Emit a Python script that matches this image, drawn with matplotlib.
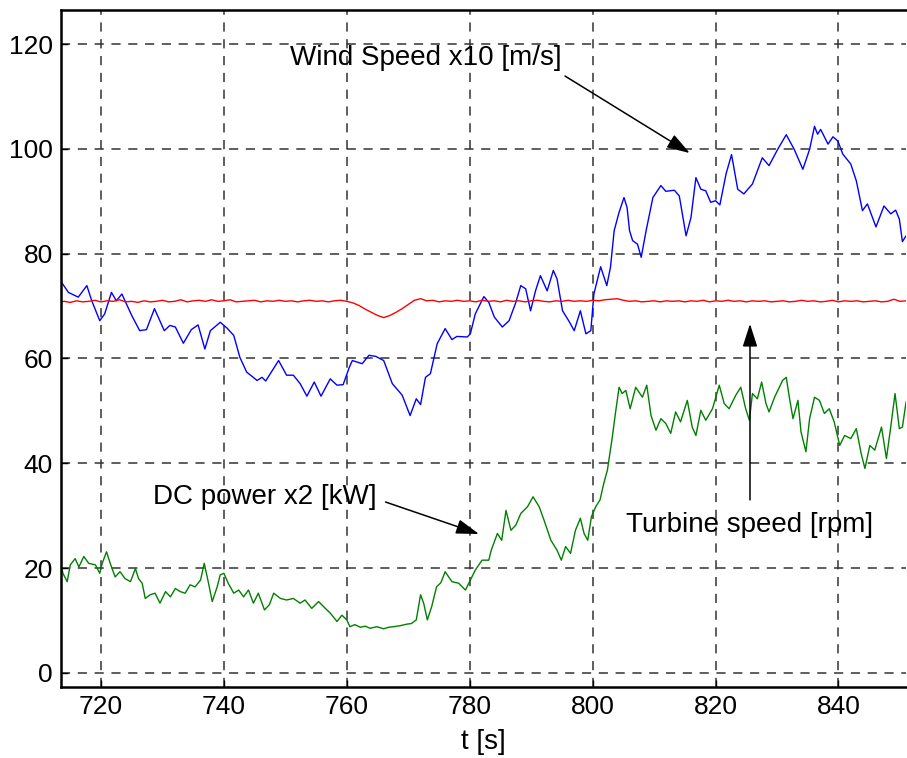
import matplotlib
matplotlib.use("Agg")
import matplotlib.pyplot as plt

plt.rcParams['font.family'] = ['Liberation Sans', 'DejaVu Sans']

# wind speed x10 [m/s]
wind_t = [713.6, 714.7, 716.3, 717.7, 718.5, 719.8, 720.6, 721.7, 722.5, 723.4,
          725.0, 726.3, 727.4, 728.7, 730.3, 731.2, 732.1, 733.4, 734.7, 735.8,
          736.9, 737.8, 739.4, 740.5, 741.6, 742.6, 743.7, 745.4, 746.2, 746.8,
          748.9, 750.2, 751.3, 752.4, 753.5, 754.7, 755.8, 757.3, 758.4, 759.4,
          760.4, 760.9, 761.7, 762.5, 763.6, 764.7, 766.0, 767.4, 769.0, 770.3,
          771.3, 772.0, 772.8, 773.6, 774.7, 776.0, 777.1, 777.9, 779.6, 780.1,
          780.9, 782.3, 783.1, 784.0, 785.3, 786.4, 787.5, 788.3, 789.1, 789.9,
          790.7, 791.5, 792.6, 793.6, 794.2, 795.1, 796.1, 797.0, 798.0, 798.9,
          799.7, 800.2, 801.3, 802.3, 802.9, 803.5, 804.3, 805.1, 805.6, 806.0,
          806.5, 807.3, 807.9, 808.7, 809.8, 811.1, 811.9, 813.3, 814.1, 815.2,
          816.0, 816.8, 817.6, 818.4, 819.2, 820.0, 820.7, 821.7, 822.6, 823.6,
          824.6, 826.0, 826.8, 827.6, 828.7, 830.1, 831.5, 832.8, 834.2, 835.3,
          836.1, 836.6, 837.1, 838.3, 839.1, 839.9, 840.7, 842.0, 842.9, 843.9,
          844.7, 846.1, 847.4, 848.5, 849.3, 849.9, 850.4, 851.0]
wind_v = [74.5, 72.6, 71.7, 73.9, 71.0, 67.2, 68.5, 72.6, 71.0, 72.3,
          68.2, 65.3, 65.5, 69.5, 65.3, 66.3, 66.0, 62.9, 65.5, 66.4,
          61.8, 65.3, 66.9, 65.8, 64.4, 60.2, 57.4, 55.8, 56.4, 55.7,
          59.6, 56.8, 56.8, 55.2, 52.8, 55.5, 52.8, 56.1, 54.9, 55.0,
          58.3, 59.6, 59.3, 59.0, 60.6, 60.4, 59.6, 55.2, 53.0, 49.1,
          52.3, 51.2, 56.4, 57.1, 62.8, 65.7, 63.6, 64.2, 64.1, 64.7,
          68.5, 71.8, 70.7, 67.9, 66.0, 67.2, 70.7, 73.9, 73.3, 69.1,
          72.9, 75.8, 72.9, 76.8, 75.2, 69.1, 67.2, 65.3, 69.1, 64.7,
          65.3, 72.3, 77.5, 73.9, 77.4, 84.4, 87.9, 90.7, 88.8, 84.4,
          82.5, 81.8, 79.3, 84.4, 90.7, 93.0, 91.9, 92.1, 91.0, 83.4,
          86.9, 94.5, 92.3, 92.0, 89.8, 90.1, 89.3, 95.2, 98.9, 92.3,
          91.4, 93.3, 95.8, 98.3, 96.8, 99.9, 102.7, 99.9, 96.1, 99.9,
          104.3, 102.8, 103.7, 100.9, 102.3, 101.5, 99.0, 97.1, 93.9, 88.2,
          89.5, 85.1, 89.1, 87.6, 88.3, 86.6, 82.3, 83.4]

# turbine speed [rpm]
turb_t = [713.5, 714, 715, 716, 717, 718, 719, 720, 721, 722, 723, 724, 725,
          726, 727, 728, 729, 730, 731, 732, 733, 734, 735, 736, 737, 738,
          739, 740, 741, 742, 743, 744, 745, 746, 747, 748, 749, 750, 751,
          752, 753, 754, 755, 756, 757, 758, 759, 760, 761, 762, 763, 764,
          765, 766, 767, 768, 769, 770, 771, 772, 773, 774, 775, 776, 777,
          778, 779, 780, 781, 782, 783, 784, 785, 786, 787, 788, 789, 790,
          791, 792, 793, 794, 795, 796, 797, 798, 799, 800, 801, 802, 803,
          804, 805, 806, 807, 808, 809, 810, 811, 812, 813, 814, 815, 816,
          817, 818, 819, 820, 821, 822, 823, 824, 825, 826, 827, 828, 829,
          830, 831, 832, 833, 834, 835, 836, 837, 838, 839, 840, 841, 842,
          843, 844, 845, 846, 847, 848, 849, 850, 851]
turb_v = [70.8, 70.9, 70.7, 71.0, 70.8, 70.9, 71.1, 70.8, 71.0, 70.9, 71.2, 70.8, 70.9,
          70.7, 71.0, 70.8, 70.9, 71.1, 70.8, 70.9, 71.2, 70.8, 71.0, 71.1, 70.9, 71.2,
          70.9, 71.0, 71.2, 70.8, 70.9, 71.0, 71.1, 70.8, 71.0, 70.9, 71.1, 70.9, 71.0,
          70.8, 71.0, 71.1, 70.9, 71.0, 70.8, 71.0, 71.1, 70.9, 70.6, 70.1, 69.4, 68.8,
          68.2, 67.8, 68.2, 68.8, 69.5, 70.3, 71.1, 71.4, 71.0, 71.1, 70.8, 71.0, 70.9,
          71.1, 70.9, 71.0, 70.8, 71.1, 70.9, 71.0, 70.8, 71.1, 70.9, 71.0, 70.8, 71.0,
          71.1, 70.9, 70.8, 71.0, 70.9, 71.1, 70.9, 71.0, 70.9, 71.1, 71.0, 71.2, 71.3,
          71.4, 71.1, 70.9, 71.0, 70.8, 70.9, 71.0, 70.8, 71.0, 70.9, 71.0, 70.8, 71.0,
          70.9, 71.1, 70.8, 71.0, 70.9, 71.1, 70.9, 71.0, 70.8, 71.0, 70.9, 71.0, 70.8,
          70.9, 71.0, 70.8, 70.9, 71.1, 70.9, 71.0, 70.8, 70.9, 71.1, 70.8, 71.0, 70.9,
          71.0, 70.8, 70.9, 71.0, 70.8, 70.9, 71.3, 70.9, 71.0]

# DC power x2 [kW]
dc_t = [713.4, 713.8, 714.5, 715.0, 715.8, 716.4, 717.2, 718.0, 719.1, 719.8,
        720.2, 720.9, 721.5, 722.3, 723.1, 723.9, 724.8, 725.6, 726.1, 726.7,
        727.2, 728.0, 728.8, 729.6, 730.5, 731.3, 732.1, 732.9, 733.7, 734.5,
        735.3, 736.2, 736.8, 737.5, 738.1, 738.9, 739.4, 740.0, 740.7, 741.6,
        742.4, 743.2, 744.0, 744.8, 745.6, 746.6, 747.4, 748.1, 749.2, 750.2,
        751.3, 752.4, 753.2, 754.3, 755.4, 756.5, 757.3, 758.4, 759.2, 760.0,
        760.5, 761.3, 762.2, 763.0, 763.8, 764.9, 766.0, 766.8, 767.6, 768.7,
        769.8, 770.5, 771.3, 772.0, 772.5, 773.1, 773.8, 774.6, 775.3, 776.0,
        777.1, 778.2, 779.3, 780.1, 780.9, 782.0, 783.1, 783.5, 784.5, 785.2,
        785.9, 786.7, 787.5, 788.3, 789.4, 790.3, 791.3, 792.1, 793.2, 794.2,
        794.9, 795.6, 796.4, 797.2, 798.0, 798.6, 799.2, 799.8, 800.5, 801.2,
        801.8, 802.4, 803.2, 803.7, 804.3, 804.8, 805.4, 806.1, 807.0, 808.1,
        808.8, 809.5, 810.3, 811.1, 811.9, 812.7, 813.5, 814.3, 815.4, 816.2,
        816.8, 817.6, 818.4, 819.5, 820.6, 821.4, 822.2, 823.3, 824.1, 824.9,
        825.5, 826.0, 826.8, 827.5, 828.2, 828.7, 829.6, 830.9, 831.5, 832.0,
        832.6, 833.4, 833.9, 834.7, 835.3, 836.1, 836.9, 837.7, 838.5, 839.3,
        840.2, 841.0, 842.0, 842.9, 843.7, 844.3, 845.1, 845.9, 847.0, 847.8,
        848.5, 849.2, 849.9, 850.4, 851.0]
dc_v = [20.9, 19.0, 17.4, 20.6, 21.8, 20.2, 22.2, 20.9, 20.6, 19.0,
        20.9, 23.1, 20.9, 18.3, 19.3, 18.0, 17.4, 19.9, 18.0, 17.1,
        14.2, 14.9, 15.2, 13.3, 15.5, 14.5, 16.1, 15.5, 15.2, 16.8,
        16.4, 17.7, 20.9, 17.1, 13.6, 16.4, 18.7, 19.0, 17.1, 15.2,
        15.8, 14.5, 15.8, 13.3, 15.2, 12.0, 13.0, 15.2, 14.2, 13.9,
        14.2, 13.3, 13.9, 12.3, 13.6, 12.3, 11.4, 9.8, 11.0, 10.1,
        8.8, 9.2, 8.7, 8.9, 8.5, 8.8, 8.4, 8.7, 8.8, 9.0,
        9.3, 9.4, 10.1, 14.9, 13.3, 10.1, 12.6, 16.4, 17.2, 19.3,
        17.4, 17.1, 15.8, 17.7, 19.6, 21.5, 21.5, 23.4, 26.6, 25.3,
        31.0, 27.2, 28.2, 30.4, 31.7, 33.6, 31.7, 29.1, 25.3, 23.4,
        21.5, 24.1, 22.8, 27.2, 29.5, 26.6, 25.3, 29.8, 31.7, 33.0,
        36.1, 38.7, 45.0, 49.5, 54.5, 53.3, 53.9, 50.4, 54.5, 52.6,
        54.9, 49.1, 46.3, 48.5, 47.6, 45.7, 49.8, 47.9, 52.0, 46.9,
        45.3, 50.1, 48.2, 50.4, 54.9, 51.4, 50.4, 53.0, 54.5, 50.4,
        48.2, 53.3, 52.3, 55.5, 51.4, 49.8, 52.6, 55.8, 56.4, 52.6,
        48.5, 52.0, 46.0, 42.2, 48.5, 52.6, 52.0, 49.5, 50.4, 47.9,
        43.4, 45.3, 44.7, 46.6, 41.8, 39.0, 43.4, 42.5, 46.9, 40.9,
        46.9, 53.3, 46.6, 46.9, 51.7]

fig = plt.figure(figsize=(9.07, 7.58), dpi=100)
ax = fig.add_axes([0.0673, 0.0937, 0.9317, 0.8931])

ax.plot(wind_t, wind_v, color='#0000ff', lw=1.0)
ax.plot(turb_t, turb_v, color='#ff0000', lw=1.0)
ax.plot(dc_t, dc_v, color='#008000', lw=1.0)

ax.set_xlim(713.5, 851)
ax.set_ylim(-2.7, 126.5)
ax.set_xticks([720, 740, 760, 780, 800, 820, 840])
ax.set_yticks([0, 20, 40, 60, 80, 100, 120])
ax.tick_params(direction='in', length=5, width=1, labelsize=19, pad=6)
ax.grid(True, color='#333333', linestyle=(0, (6, 5)), lw=1.1)
ax.spines['right'].set_visible(False)
for s in ['left', 'bottom', 'top']:
    ax.spines[s].set_linewidth(1.8)

ax.set_xlabel("t [s]", fontsize=20, labelpad=7)

arrow = dict(arrowstyle='-|>,head_length=1.4,head_width=0.45', color='k',
             lw=1.1, shrinkA=0, shrinkB=0)
ax.text(772.9, 117.3, "Wind Speed x10 [m/s]", fontsize=20, ha='center', va='center')
ax.annotate('', xy=(815.8, 99.2), xytext=(795.5, 113.9), arrowprops=arrow)
ax.text(825.6, 28.3, "Turbine speed [rpm]", fontsize=20, ha='center', va='center')
ax.annotate('', xy=(825.6, 66.6), xytext=(825.6, 33.0), arrowprops=arrow)
ax.text(746.7, 33.5, "DC power x2 [kW]", fontsize=20, ha='center', va='center')
ax.annotate('', xy=(781.5, 26.5), xytext=(766.3, 32.6), arrowprops=arrow)

fig.savefig('out.png', dpi=100)
